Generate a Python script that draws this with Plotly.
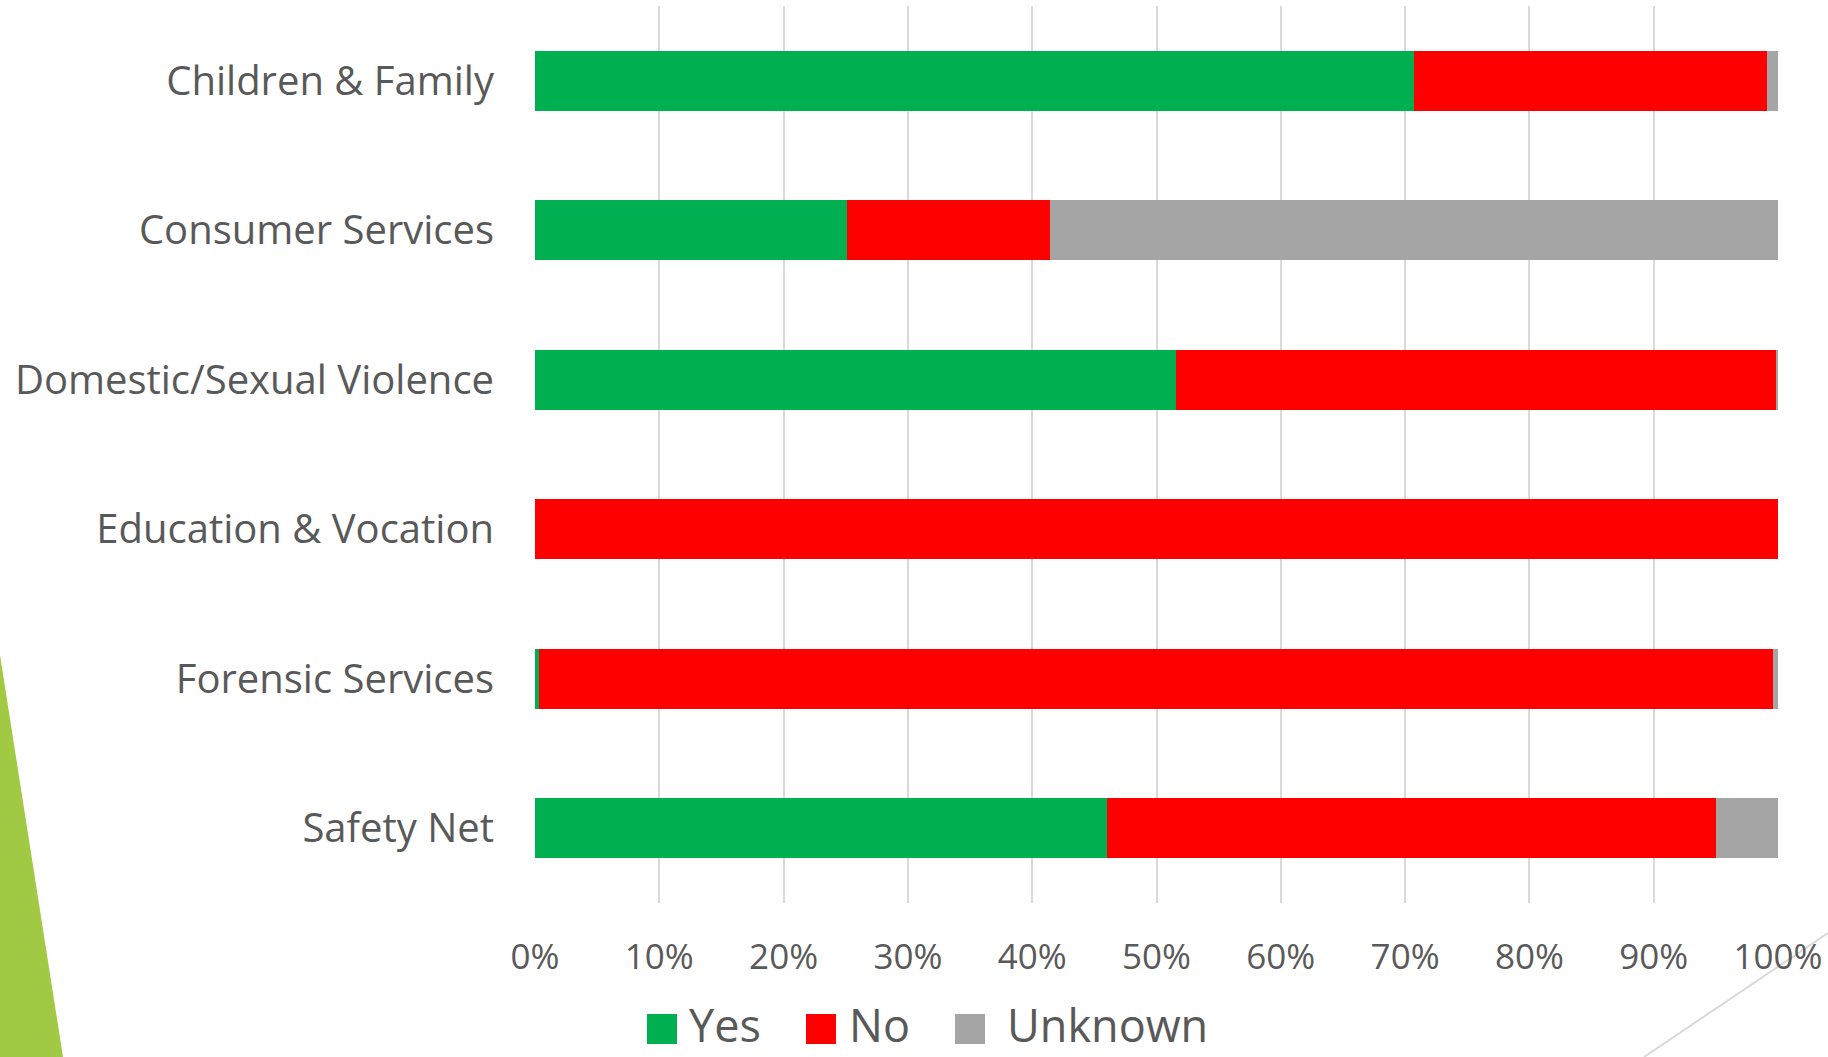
import plotly.graph_objects as go

W, H = 1828, 1057

categories = ["Children & Family", "Consumer Services", "Domestic/Sexual Violence",
              "Education & Vocation", "Forensic Services", "Safety Net"]
yes_vals = [70.7, 25.1, 51.6, 0.0, 0.3, 46.0]
no_vals = [28.4, 16.3, 48.2, 100.0, 99.3, 49.0]
unknown_vals = [0.9, 58.6, 0.2, 0.0, 0.4, 5.0]
series_names = ["Yes", "No", "Unknown"]
series_colors = ["#00B050", "#FF0000", "#A5A5A5"]
tick_vals = [0, 10, 20, 30, 40, 50, 60, 70, 80, 90, 100]
tick_text = [f"{v}%" for v in tick_vals]

TXT = "#595959"
FONT = "Open Sans"

def px(x):
    return x / W

def py(y):
    return 1 - y / H

fig = go.Figure()
for name, vals, col in zip(series_names, [yes_vals, no_vals, unknown_vals], series_colors):
    fig.add_trace(go.Bar(
        y=categories, x=vals, name=name, orientation="h",
        marker=dict(color=col, line=dict(width=0)),
        width=0.4, showlegend=False, hoverinfo="x+y+name",
    ))

shapes = []
annotations = []
# decorative slide elements
shapes.append(dict(type="path", xref="paper", yref="paper",
                   path=f"M {px(0)},{py(655)} L {px(63)},{py(1057)} L {px(0)},{py(1057)} Z",
                   fillcolor="#A2C944", line=dict(width=0), layer="below"))
shapes.append(dict(type="line", xref="paper", yref="paper",
                   x0=px(1644), y0=py(1057), x1=px(1828), y1=py(933),
                   line=dict(color="#D9D9D9", width=2), layer="below"))

# legend drawn manually
leg_sq_x = [647, 806, 955]
leg_txt_x = [688, 848, 1006]
for name, col, sx, tx in zip(series_names, series_colors, leg_sq_x, leg_txt_x):
    shapes.append(dict(type="rect", xref="paper", yref="paper",
                       x0=px(sx), x1=px(sx + 30), y0=py(1044), y1=py(1014),
                       fillcolor=col, line=dict(width=0)))
    annotations.append(dict(xref="paper", yref="paper", x=px(tx), y=py(1056),
                            text=name, showarrow=False, xanchor="left", yanchor="bottom",
                            borderpad=0,
                            font=dict(family=FONT, size=45, color=TXT)))

fig.update_layout(
    width=W, height=H, autosize=False,
    margin=dict(l=0, r=0, t=0, b=0, pad=0),
    paper_bgcolor="white", plot_bgcolor="white",
    barmode="stack",
    shapes=shapes, annotations=annotations,
    xaxis=dict(domain=[px(535), px(1778)], range=[0, 100], automargin=False,
               tickvals=tick_vals, ticktext=tick_text,
               showgrid=True, gridcolor="#D9D9D9", gridwidth=2,
               zeroline=False, showline=False,
               tickfont=dict(family=FONT, size=35, color=TXT),
               ticklabelstandoff=30, fixedrange=True),
    yaxis=dict(domain=[py(903), py(6)], autorange="reversed", automargin=False,
               showgrid=False, zeroline=False, showline=False,
               tickfont=dict(family=FONT, size=40, color=TXT),
               ticklabelstandoff=40, fixedrange=True),
    font=dict(family=FONT, color=TXT),
)

fig.write_html(
    "out.html",
    config={"displayModeBar": False},
    post_script="document.body.style.margin='0';document.body.style.overflow='hidden';",
)
